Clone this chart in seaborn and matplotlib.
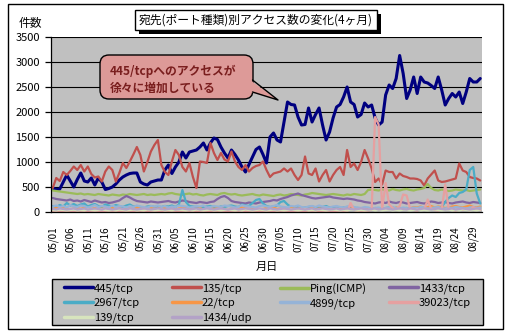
import numpy as np
import pandas as pd
import matplotlib
matplotlib.use("Agg")
import matplotlib.pyplot as plt
import seaborn as sns
from matplotlib.patches import Rectangle, FancyBboxPatch, Polygon
from matplotlib.lines import Line2D
from matplotlib.transforms import IdentityTransform

# ---------------- data ----------------
dates = pd.date_range("2005-05-01", "2005-08-31").strftime("%m/%d").tolist()
tick_labels = dates[::5]

names = ["445/tcp", "135/tcp", "Ping(ICMP)", "1433/tcp", "2967/tcp",
         "22/tcp", "4899/tcp", "39023/tcp", "139/tcp", "1434/udp"]
colors = ["#000080", "#C0504D", "#9BBB59", "#8064A2", "#4BACC6",
          "#F79646", "#95B3D7", "#E6A0A0", "#D7E4BD", "#B3A2C7"]

s445 = [480, 450, 460, 600, 740, 620, 500, 650, 780, 620,
        600, 680, 540, 680, 600, 450, 470, 500, 560, 640,
        700, 740, 770, 780, 780, 600, 560, 540, 600, 620,
        640, 640, 840, 940, 770, 900, 1000, 1200, 1080, 1200,
        1220, 1240, 1300, 1380, 1240, 1380, 1480, 1450, 1300, 1180,
        1080, 1240, 1150, 1040, 900, 800, 950, 1100, 1250, 1300,
        1150, 980, 1500, 1580, 1440, 1400, 1800, 2200, 2150, 2140,
        1900, 1740, 1750, 2080, 1800, 1950, 2080, 1740, 1440, 1600,
        1880, 2100, 2150, 2300, 2500, 2200, 2150, 1900, 1950, 2180,
        2100, 2140, 1880, 1740, 1800, 2340, 2540, 2470, 2670, 3130,
        2770, 2270, 2440, 2700, 2370, 2700, 2600, 2580, 2530, 2470,
        2700, 2440, 2140, 2270, 2370, 2300, 2400, 2170, 2400, 2670,
        2600, 2600, 2670]
s135 = [480, 680, 620, 800, 740, 820, 910, 840, 940, 810,
        910, 760, 690, 710, 610, 810, 910, 840, 610, 780,
        980, 880, 1010, 1150, 1300, 1140, 810, 1000, 1210, 1340,
        1440, 940, 800, 740, 1010, 1240, 1140, 900, 810, 980,
        700, 480, 1010, 1000, 980, 1380, 1180, 1040, 1180, 1050,
        1010, 1210, 1010, 900, 840, 940, 810, 880, 920, 940,
        1010, 840, 700, 770, 790, 810, 870, 810, 870, 740,
        640, 740, 1110, 770, 740, 870, 610, 740, 840, 610,
        740, 840, 900, 740, 1240, 900, 970, 840, 1000, 1240,
        1070, 870, 600, 670, 550, 830, 800, 800, 670, 770,
        720, 700, 670, 670, 660, 630, 530, 670, 750, 830,
        630, 600, 610, 630, 650, 670, 970, 830, 800, 700,
        680, 670, 630]
s_ping = [430, 420, 410, 400, 390, 380, 370, 360, 370, 350, 360,
          350, 340, 360, 350, 340, 330, 350, 340, 330, 350,
          340, 360, 350, 340, 350, 360, 340, 350, 340, 350,
          360, 350, 370, 380, 360, 350, 340, 360, 370, 350,
          360, 340, 330, 350, 360, 350, 340, 370, 380, 360,
          350, 360, 340, 330, 340, 350, 360, 340, 330, 350,
          340, 330, 320, 340, 350, 330, 340, 360, 350, 340,
          330, 350, 360, 380, 370, 360, 350, 340, 350, 360,
          350, 340, 330, 350, 340, 360, 350, 340, 360, 440,
          450, 440, 430, 450, 440, 430, 460, 440, 430, 450,
          460, 440, 430, 450, 460, 480, 560, 480, 440, 430,
          450, 440, 420, 430, 450, 440, 430, 440, 420, 430,
          440, 450]
s1433 = [280, 260, 250, 240, 230, 250, 220, 230, 210, 240,
         220, 200, 230, 210, 190, 200, 180, 190, 210, 230,
         280, 320, 290, 250, 220, 210, 200, 190, 210, 200,
         190,
         200, 210, 220, 200, 190, 210, 230, 220, 200, 190,
         180, 200, 190, 180, 200, 210, 260, 300, 320, 280,
         220, 200, 190, 180, 170, 190, 180, 170, 190, 200,
         210, 220, 240, 230, 260, 280, 300, 330, 350, 370,
         340, 320, 300, 280, 270, 280, 290, 300, 310, 290,
         280, 270, 260, 270, 260, 250, 230, 220, 200, 190,
         180, 170, 190, 200, 180, 210, 190, 180, 200, 190,
         170, 180, 190, 200, 180, 170, 190, 210, 200, 180,
         190, 200, 180, 170, 190, 200, 210, 190, 180, 200,
         190, 180]
s2967 = [120, 100, 140, 110, 180, 130, 160, 120, 150, 170,
         110, 140, 160, 120, 100, 150, 130, 110, 140, 120,
         100, 130, 150, 110, 120, 100, 90, 110, 120, 100,
         110,
         100, 120, 110, 130, 100, 150, 440, 200, 120, 110,
         100, 90, 100, 110, 120, 100, 90, 110, 100, 120,
         130, 110, 100, 150, 130, 120, 180, 240, 260, 170,
         120, 100, 110, 130, 200, 220, 150, 100, 90, 100,
         80, 90, 100, 110, 90, 80, 100, 120, 90, 80,
         70, 80, 90, 100, 80, 70, 80, 60, 70, 80,
         60, 80, 70, 60, 80, 90, 70, 80, 60, 70,
         80, 60, 70, 60, 80, 70, 80, 60, 70, 80,
         100, 200, 280, 330, 300, 380, 400, 450, 840, 900,
         370, 170]
s22 = [60, 80, 70, 90, 60, 50, 70, 80, 60, 90, 70, 60, 80, 50, 70, 60, 90, 80, 60, 70,
       50, 80, 70, 60, 90, 70, 60, 50, 80, 70, 60, 90, 70, 80, 60, 50, 70, 80, 90, 60,
       70, 60, 80, 50, 70, 90, 60, 80, 70, 60, 50, 70, 80, 60, 90, 70, 60, 80, 70, 50,
       60, 80, 70, 90, 60, 70, 50, 60, 80, 70, 60, 90, 70, 60, 80, 50, 70, 60, 80, 70,
       60, 50, 70, 80, 60, 70, 90, 60, 50, 70, 60, 80, 70, 60, 50, 70, 80, 60, 90, 70,
       60, 80, 70, 100, 90, 110, 80, 100, 120, 90, 110, 100, 80, 90, 110, 120, 100, 90,
       110, 130, 100, 90, 110]
s4899 = [110, 130, 100, 120, 90, 140, 110, 100, 130, 120, 90, 110, 140, 100, 120, 110, 90, 130, 100, 120,
         110, 90, 120, 100, 130, 110, 100, 90, 120, 110, 130, 100, 120, 90, 110, 100, 130, 120, 110, 90,
         100, 120, 110, 130, 90, 100, 120, 110, 100, 130, 120, 110, 90, 100, 140, 120, 110, 100, 90, 120,
         130, 110, 100, 120, 140, 110, 100, 90, 120, 110, 130, 100, 90, 110, 120, 100, 130, 110, 100, 90,
         110, 120, 100, 90, 110, 130, 100, 90, 80, 100, 90, 70, 80, 90, 70, 80, 90, 100, 80, 70,
         90, 80, 70, 90, 80, 100, 90, 70, 80, 90, 100, 80, 70, 90, 80, 100, 90, 80, 70, 90,
         100, 80, 90]
s39023 = [0, 10, 0, 0, 20, 0, 0, 10, 0, 0,
          0, 0, 10, 0, 0, 20, 0, 0, 0, 10,
          0, 0, 0, 10, 0, 0, 20, 0, 0, 0,
          10, 0, 0, 0, 20, 0, 0, 10, 0, 0,
          0, 10, 0, 0, 0, 20, 0, 0, 10, 0,
          0, 0, 10, 0, 0, 20, 0, 0, 0, 10,
          0, 0, 20, 0, 0, 10, 0, 0, 0, 20,
          0, 10, 0, 0, 0, 20, 0, 10, 0, 0,
          0, 10, 0, 20, 0,
          180, 40, 20, 10, 20, 30, 40, 1900, 1750, 60,
          580, 150, 80, 40, 120, 350, 330, 60, 40, 30,
          60, 40, 250, 60, 40, 30, 50, 550, 60, 40,
          30, 50, 40, 60, 30, 100, 60, 40]
s139 = [40, 30, 50, 40, 30, 40, 50, 30, 40, 30,
        50, 40, 30, 40, 50, 40, 30, 40, 30, 50,
        40, 30, 40, 50, 30, 40, 30, 50, 40, 30,
        40, 50, 30, 40, 30, 40, 50, 40, 30, 40,
        30, 50, 40, 30, 40, 50, 30, 40, 30, 40,
        50, 40, 30, 40, 30, 50, 40, 30, 40, 50,
        40, 30, 40, 50, 30, 40, 30, 40, 50, 40,
        30, 40, 50, 30, 40, 30, 50, 40, 30, 40,
        50, 40, 30, 40, 30, 50, 40, 30, 40, 30,
        40, 50, 30, 40, 30, 40, 50, 30, 40, 30,
        50, 40, 30, 40, 50, 30, 40, 30, 40, 50,
        40, 30, 40, 50, 30, 40, 30, 50, 40, 30,
        40, 30, 50]
s1434 = [60, 50, 70, 60, 50, 60, 70, 50, 60, 70,
         50, 60, 70, 60, 50, 70, 60, 50, 60, 70,
         60, 50, 70, 60, 50, 60, 70, 60, 50, 60,
         70, 60, 50, 60, 70, 50, 60, 70, 60, 50,
         60, 70, 50, 60, 70, 60, 50, 60, 70, 60,
         50, 60, 70, 50, 60, 70, 60, 50, 60, 70,
         60, 50, 70, 60, 50, 60, 70, 60, 50, 60,
         70, 60, 50, 60, 70, 50, 60, 70, 60, 50,
         60, 70, 50, 60, 70, 60, 50, 60, 70, 60,
         50, 60, 70, 50, 60, 70, 60, 50, 60, 70,
         60, 50, 70, 60, 50, 60, 70, 60, 50, 60,
         70, 60, 50, 60, 70, 50, 60, 70, 60, 50,
         60, 70, 60]

series = [s445, s135, s_ping, s1433, s2967, s22, s4899, s39023, s139, s1434]
widths = [2.2, 1.6, 1.6, 1.6, 1.6, 1.6, 1.6, 1.6, 1.6, 1.6]

title = "宛先(ポート種類)別アクセス数の変化(4ヶ月)"
callout = ["445/tcpへのアクセスが", "徐々に増加している"]

# legend layout: rows as in the reference
legend_columns = [["445/tcp", "2967/tcp", "139/tcp"],
                  ["135/tcp", "22/tcp", "1434/udp"],
                  ["Ping(ICMP)", "4899/tcp"],
                  ["1433/tcp", "39023/tcp"]]

# ---------------- figure ----------------
sns.set_theme(style="white")
plt.rcParams['font.family'] = ['Noto Sans CJK JP', 'DejaVu Sans']

W, H = 512, 334
fig = plt.figure(figsize=(W / 100, H / 100), dpi=100)
fig.patch.set_facecolor("white")

def fx(px):
    return px / W

def fy(py):
    return 1 - py / H

ax = fig.add_axes([fx(51), fy(212), (482 - 51) / W, (212 - 37) / H])
ax.set_facecolor("#C0C0C0")

xidx = np.arange(len(dates))
for name, vals, col, lw in zip(names, series, colors, widths):
    sns.lineplot(x=xidx, y=vals, ax=ax, color=col, linewidth=lw,
                 label=name, legend=False)

ax.set_xlim(-0.5, len(dates) - 0.5)
ax.set_ylim(0, 3500)
ax.set_yticks(np.arange(0, 3501, 500))
ax.set_xticks(xidx[::5])
ax.set_xticklabels(tick_labels, rotation=90)
ax.yaxis.grid(True, color="black", linewidth=0.8)
ax.xaxis.grid(False)
ax.set_axisbelow(True)
for s in ["top", "right"]:
    ax.spines[s].set_visible(False)
for s in ["left", "bottom"]:
    ax.spines[s].set_color("black")
    ax.spines[s].set_linewidth(0.9)
ax.tick_params(axis="y", length=4, width=0.9, color="black", pad=4,
               labelsize=8, labelcolor="black", left=True)
ax.tick_params(axis="x", length=0, pad=10, labelsize=7, labelcolor="black")
ax.set_xlabel("")
ax.set_ylabel("")

# axis labels
fig.text(fx(30), fy(23), "件数", ha="center", va="center", fontsize=8.5, color="black")
fig.text(fx(267), fy(267), "月日", ha="center", va="center", fontsize=8, color="black")

# outer frame
fig.patches.append(Rectangle((fx(8), fy(329)), (503 - 8) / W, (329 - 4) / H,
                             transform=fig.transFigure, fill=False,
                             edgecolor="black", linewidth=1, zorder=0.5))

# title box with shadow
fig.patches.append(Rectangle((fx(139), fy(34)), (377 - 135) / W, (30 - 10) / H,
                             transform=fig.transFigure, facecolor="black",
                             edgecolor="black", linewidth=0, zorder=2))
fig.patches.append(Rectangle((fx(135), fy(30)), (377 - 135) / W, (30 - 10) / H,
                             transform=fig.transFigure, facecolor="white",
                             edgecolor="black", linewidth=1, zorder=2.1))
fig.text(fx(256), fy(20.5), title, ha="center", va="center", fontsize=8.5,
         color="black", zorder=3)

# callout
pink = "#DD9A98"
ident = IdentityTransform()
box = FancyBboxPatch((100, H - 99), 153, 44,
                     boxstyle="round,pad=0,rounding_size=9",
                     transform=ident, facecolor=pink, edgecolor="black",
                     linewidth=1, zorder=2)
fig.patches.append(box)
tri = Polygon([(250, H - 80), (278, H - 100), (250, H - 92)], closed=True,
              transform=ident, facecolor=pink, edgecolor="none", zorder=2.1)
fig.patches.append(tri)
fig.lines.append(Line2D([252.5, 278, 252.5], [H - 80, H - 100, H - 92],
                        transform=ident, color="black", linewidth=1, zorder=2.2))
fig.text(fx(110), fy(71.5), callout[0], ha="left", va="center", fontsize=8.5,
         fontweight="bold", color="#7A1E1E", zorder=3)
fig.text(fx(110), fy(88.5), callout[1], ha="left", va="center", fontsize=8.5,
         fontweight="bold", color="#7A1E1E", zorder=3)

# legend frame + one legend per column
fig.patches.append(Rectangle((fx(52), fy(325)), (483 - 52) / W, (325 - 279) / H,
                             transform=fig.transFigure, facecolor="#C0C0C0",
                             edgecolor="black", linewidth=1, zorder=2))
handle_map = {l.get_label(): l for l in ax.get_lines()}
col_x = [64, 172, 280, 389]
for cx, entries in zip(col_x, legend_columns):
    leg = fig.legend([handle_map[n] for n in entries], entries, ncol=1,
                     loc="upper left", bbox_to_anchor=(fx(cx), fy(283)),
                     frameon=False, fontsize=8, handlelength=2.6,
                     handletextpad=0.1, labelspacing=0.38,
                     borderaxespad=0, borderpad=0)
    leg.set_zorder(3)
    for l in leg.get_lines():
        l.set_linewidth(2.5)
    for t in leg.get_texts():
        t.set_color("black")

fig.savefig("out.png", dpi=100, facecolor="white")
